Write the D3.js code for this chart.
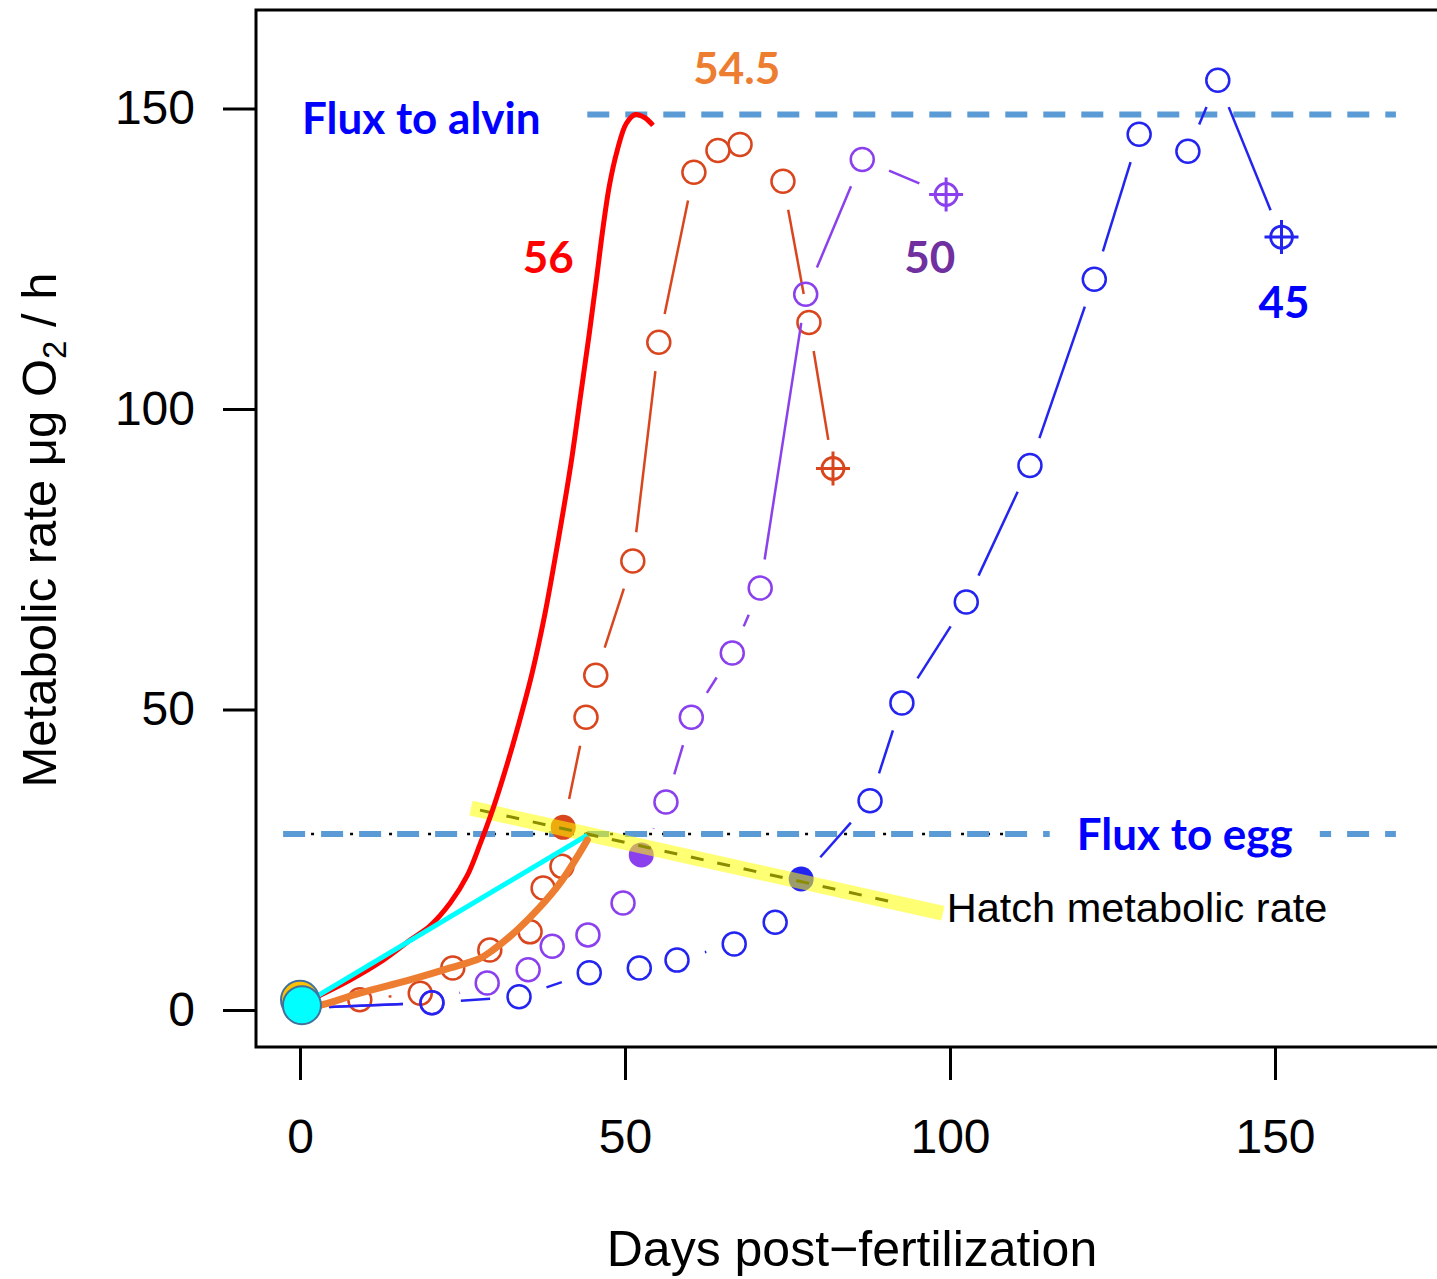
<!DOCTYPE html>
<html>
<head>
<meta charset="utf-8">
<script src="https://cdn.jsdelivr.net/npm/d3@7"></script>
<style>
  html, body { margin: 0; padding: 0; background: #fff; }
  svg { display: block; }
</style>
</head>
<body>
<div id="chart"></div>
<script>
'use strict';

// ---- data ----
const xTicks = [0, 50, 100, 150];
const yTicks = [0, 50, 100, 150];

// 54.5 series
const s54Days = [0, 9.2, 18.5, 23.5, 29.2, 35.4, 37.4, 40.3, 40.5, 44.0, 45.5, 51.2, 55.2, 60.6, 64.3, 67.7, 74.3, 78.3, 82.0];
const s54Rate = [0.3, 1.7, 2.8, 7.0, 10.0, 13.0, 20.3, 23.9, 30.4, 48.7, 55.7, 74.7, 111.1, 139.4, 143.0, 144.0, 137.9, 114.4, 90.1];
const s54Hatch = 8;

// 50 series
const s50Days = [0, 20.3, 28.8, 35.1, 38.8, 44.3, 49.7, 52.5, 56.3, 60.2, 66.5, 70.8, 77.8, 86.5, 99.4];
const s50Rate = [0.3, 1.2, 4.5, 6.7, 10.6, 12.5, 17.8, 25.8, 34.6, 48.7, 59.4, 70.2, 119.1, 141.5, 135.7];
const s50Hatch = 7;

// 45 series
const s45Days = [0, 20.3, 33.7, 44.5, 52.2, 58.0, 66.8, 73.1, 77.1, 87.7, 92.6, 102.5, 112.3, 122.2, 129.1, 136.6, 141.2, 151.0];
const s45Rate = [0.3, 1.2, 2.2, 6.2, 7.0, 8.3, 11.0, 14.6, 21.8, 34.8, 51.1, 67.9, 90.6, 121.6, 145.7, 142.9, 154.7, 128.6];
const s45Hatch = 8;

// 56 curve (red)
const c56Days = [0, 2.6, 7.7, 12.8, 16.9, 20.0, 23.1, 25.7, 27.7, 29.7, 31.7, 33.7, 35.7, 37.7, 39.7, 41.7, 43.2, 44.5, 45.6, 46.6, 47.6, 48.8, 50.2, 51.6, 53.0, 54.3];
const c56Rate = [0.8, 2.2, 5.0, 8.3, 11.6, 14.0, 17.8, 22.3, 27.6, 33.5, 40.3, 47.8, 56.0, 66.0, 78.0, 91.0, 102.5, 112.5, 121.5, 130.0, 137.2, 143.0, 147.5, 149.0, 148.5, 147.2];

// 54.5 fitted curve (orange)
const c545Days = [0, 2.6, 9.2, 16.9, 23.1, 27.7, 29.7, 33.4, 36.9, 40.0, 42.6, 44.2];
const c545Rate = [0.8, 0.7, 2.8, 5.0, 7.0, 8.6, 10.0, 13.3, 17.1, 21.1, 25.4, 28.3];

// straight cyan line
const cyanDays = [0.3, 44.2];
const cyanRate = [0.8, 29.1];

// hatch metabolic rate line
const hatchDays = [26.3, 98.9];
const hatchRate = [33.6, 16.1];
const hatchDashDays = [27.7, 91.2];

// reference fluxes
const fluxEgg = 29.3;
const fluxAlvin = 149.0;
const fluxEggDays = [-2.6, 168.6];
const fluxEggDotDays = [-2.3, 111.5];
const fluxAlvinDays = [44.2, 168.6];

// starting points at day 0
const startDays = [0, 0.3];
const startRate = [1.7, 0.8];

// ---- layout ----
const W = 1437, H = 1279;
const box = { left: 256, top: 10, bottom: 1047, right: 1445 };

const x = d3.scaleLinear().domain([0, 150]).range([300, 1275]);
const y = d3.scaleLinear().domain([0, 150]).range([1010, 108.5]);

const svg = d3.select('#chart').append('svg')
  .attr('width', W)
  .attr('height', H)
  .attr('viewBox', `0 0 ${W} ${H}`);

const axisFont = '"Liberation Sans", Arial, sans-serif';
const labelFont = 'Lato, "Open Sans", sans-serif';

svg.append('clipPath').attr('id', 'plot')
  .append('rect')
  .attr('x', box.left).attr('y', box.top)
  .attr('width', box.right - box.left).attr('height', box.bottom - box.top);

const plot = svg.append('g').attr('clip-path', 'url(#plot)');

// reference lines
const hline = (g, days, val) => g.append('line')
  .attr('x1', x(days[0])).attr('x2', x(days[1]))
  .attr('y1', y(val)).attr('y2', y(val));

hline(plot, fluxEggDotDays, fluxEgg)
  .attr('stroke', '#000').attr('stroke-width', 2.5)
  .attr('stroke-dasharray', '3,10');
hline(plot, fluxEggDays, fluxEgg)
  .attr('stroke', '#5B9BD5').attr('stroke-width', 6)
  .attr('stroke-dasharray', '22,16');
hline(plot, fluxAlvinDays, fluxAlvin)
  .attr('stroke', '#5B9BD5').attr('stroke-width', 6)
  .attr('stroke-dasharray', '22,16');

// series drawn R "type=b" style: segments broken around each point
function gapped(pts, gap) {
  const segs = [];
  for (let i = 1; i < pts.length; i++) {
    const [x0, y0] = pts[i - 1], [x1, y1] = pts[i];
    const len = Math.hypot(x1 - x0, y1 - y0);
    if (len <= 2 * gap) continue;
    const ux = (x1 - x0) / len, uy = (y1 - y0) / len;
    segs.push([x0 + ux * gap, y0 + uy * gap, x1 - ux * gap, y1 - uy * gap]);
  }
  return segs;
}

const series = [
  { days: s54Days, rate: s54Rate, hatch: s54Hatch, color: '#D9461E' },
  { days: s50Days, rate: s50Rate, hatch: s50Hatch, color: '#8B40EE' },
  { days: s45Days, rate: s45Rate, hatch: s45Hatch, color: '#2424F0' }
];

series.forEach((s) => {
  const pts = s.days.map((d, i) => [x(d), y(s.rate[i])]);
  const g = plot.append('g');

  g.selectAll('line.seg')
    .data(gapped(pts, 29))
    .enter().append('line')
    .attr('class', 'seg')
    .attr('x1', (d) => d[0]).attr('y1', (d) => d[1])
    .attr('x2', (d) => d[2]).attr('y2', (d) => d[3])
    .attr('stroke', s.color)
    .attr('stroke-width', 2.5);

  const last = pts.length - 1;
  pts.forEach((p, i) => {
    if (i === s.hatch) {
      g.append('circle').attr('cx', p[0]).attr('cy', p[1]).attr('r', 12.5)
        .attr('fill', s.color);
    } else if (i === last) {
      g.append('circle').attr('cx', p[0]).attr('cy', p[1]).attr('r', 11)
        .attr('fill', 'none').attr('stroke', s.color).attr('stroke-width', 2.8);
      g.append('path')
        .attr('d', `M${p[0] - 17},${p[1]}H${p[0] + 17}M${p[0]},${p[1] - 17}V${p[1] + 17}`)
        .attr('stroke', s.color).attr('stroke-width', 3);
    } else {
      g.append('circle').attr('cx', p[0]).attr('cy', p[1]).attr('r', 11.5)
        .attr('fill', 'none').attr('stroke', s.color).attr('stroke-width', 2.5);
    }
  });
});

// hatch metabolic rate: dashed fit under a yellow highlighter band
const line = d3.line().x((d) => x(d[0])).y((d) => y(d[1]));
const hatchAt = (d) => hatchRate[0] + (hatchRate[1] - hatchRate[0]) * (d - hatchDays[0]) / (hatchDays[1] - hatchDays[0]);

plot.append('path')
  .attr('d', line(hatchDashDays.map((d) => [d, hatchAt(d)])))
  .attr('stroke', '#000').attr('stroke-width', 3)
  .attr('stroke-dasharray', '13,14').attr('fill', 'none');

plot.append('path')
  .attr('d', line(hatchDays.map((d, i) => [d, hatchRate[i]])))
  .attr('stroke', '#FFFF00').attr('stroke-opacity', 0.55)
  .attr('stroke-width', 15).attr('fill', 'none');

// fitted curves
const smooth = d3.line().x((d) => x(d[0])).y((d) => y(d[1])).curve(d3.curveCatmullRom);

plot.append('path')
  .attr('d', smooth(c56Days.map((d, i) => [d, c56Rate[i]])))
  .attr('stroke', '#FF0000').attr('stroke-width', 5).attr('fill', 'none');

plot.append('path')
  .attr('d', line(cyanDays.map((d, i) => [d, cyanRate[i]])))
  .attr('stroke', '#00FFFF').attr('stroke-width', 5).attr('fill', 'none');

plot.append('path')
  .attr('d', smooth(c545Days.map((d, i) => [d, c545Rate[i]])))
  .attr('stroke', '#ED7D31').attr('stroke-width', 7)
  .attr('stroke-linecap', 'round').attr('fill', 'none');

// start points
const startFill = ['#FFC000', '#00FFFF'];
svg.selectAll('circle.start')
  .data(startDays.map((d, i) => [d, startRate[i]]))
  .enter().append('circle')
  .attr('class', 'start')
  .attr('cx', (d) => x(d[0])).attr('cy', (d) => y(d[1]))
  .attr('r', 19)
  .attr('fill', (d, i) => startFill[i])
  .attr('stroke', '#41719C').attr('stroke-width', 2);

// ---- box and axes ----
svg.append('path')
  .attr('d', `M${box.right},${box.top}H${box.left}V${box.bottom}H${box.right}`)
  .attr('fill', 'none').attr('stroke', '#000').attr('stroke-width', 3);

const xAxis = svg.append('g')
  .attr('transform', `translate(0,${box.bottom})`)
  .call(d3.axisBottom(x).tickValues(xTicks).tickSize(33).tickPadding(39));

const yAxis = svg.append('g')
  .attr('transform', `translate(${box.left},0)`)
  .call(d3.axisLeft(y).tickValues(yTicks).tickSize(33).tickPadding(28));

[xAxis, yAxis].forEach((a) => {
  a.select('.domain').remove();
  a.selectAll('line').attr('stroke', '#000').attr('stroke-width', 3);
  a.selectAll('text')
    .attr('fill', '#000')
    .style('font-family', axisFont)
    .style('font-size', '48px');
});

svg.append('text')
  .attr('x', 852).attr('y', 1266)
  .attr('text-anchor', 'middle')
  .style('font-family', axisFont).style('font-size', '50px')
  .text('Days post\u2212fertilization');

const yTitle = svg.append('text')
  .attr('transform', 'translate(56,530) rotate(-90)')
  .attr('text-anchor', 'middle')
  .style('font-family', axisFont).style('font-size', '49px');
yTitle.append('tspan').text('Metabolic rate \u03bcg O');
yTitle.append('tspan').attr('dy', 10).style('font-size', '33px').text('2');
yTitle.append('tspan').attr('dy', -10).text(' / h');

// ---- annotations ----
const note = (txt, d, v, color, anchor) => svg.append('text')
  .attr('x', x(d)).attr('y', y(v))
  .attr('text-anchor', anchor)
  .attr('fill', color)
  .style('font-family', labelFont)
  .style('font-weight', 'bold')
  .style('font-size', '44px')
  .text(txt);

note('56', 38.2, 122.6, '#FF0000', 'middle');
note('54.5', 67.2, 154.0, '#ED7D31', 'middle');
note('50', 96.9, 122.6, '#7030A0', 'middle');
note('45', 151.4, 115.1, '#0000FF', 'middle');
note('Flux to alvin', 0.3, 145.7, '#0000FF', 'start');

// egg flux label sits on a white patch that breaks the dashed line
const eggLabel = note('Flux to egg', 119.5, 26.6, '#0000FF', 'start');
const bb = eggLabel.node().getBBox();
svg.insert('rect', () => eggLabel.node())
  .attr('x', bb.x - 27).attr('y', bb.y)
  .attr('width', bb.width + 54).attr('height', bb.height)
  .attr('fill', '#fff');

svg.append('text')
  .attr('x', x(99.5)).attr('y', y(14.6))
  .style('font-family', axisFont).style('font-size', '41.5px')
  .text('Hatch metabolic rate');
</script>
</body>
</html>
